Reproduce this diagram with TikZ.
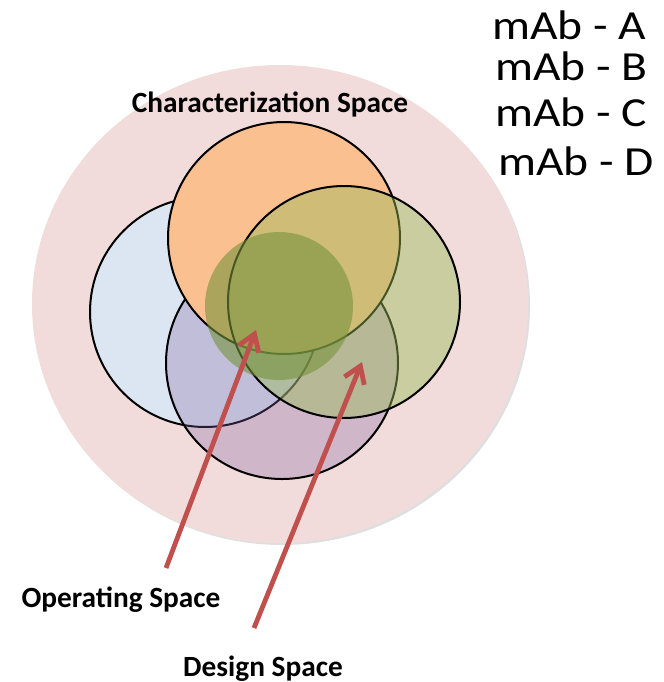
\documentclass[tikz,border=0pt]{standalone}
\usepackage{fontspec}
\setmainfont{Carlito}
\newfontfamily\mabfont[FakeStretch=1.15]{Carlito}
\usetikzlibrary{arrows.meta,shadows}

\definecolor{charpink}{HTML}{F2DCDB}
\definecolor{mabblue}{HTML}{DCE6F2}
\definecolor{maborange}{HTML}{FAC090}
\definecolor{mabpurple}{HTML}{8064A2}
\definecolor{mabgreen}{HTML}{9BBB59}
\definecolor{opgreen}{HTML}{76923C}
\definecolor{arrowred}{HTML}{C0504D}

\tikzset{venn/.style={draw=black,line width=1.5pt}}
\tikzset{pointer/.style={draw=arrowred,line width=3.6pt,-{Straight Barb[length=12pt,width=16pt]}}}
\tikzset{spacename/.style={font=\bfseries\fontsize{22}{26}\selectfont,inner sep=0pt}}
\tikzset{mab/.style={font=\mabfont\fontsize{31}{36}\selectfont,inner sep=0pt,anchor=base west}}

\begin{document}
\begin{tikzpicture}[x=0.75pt,y=-0.75pt]
    \useasboundingbox (0,0) rectangle (664,682);

    % characterization space
    \fill [charpink,drop shadow={opacity=0.25,shadow xshift=1.5pt,shadow yshift=-1.5pt}]
        (280,304) ellipse [x radius=248,y radius=239];

    % one circle per mAb
    \draw [venn,fill=mabblue] (205,312) circle [radius=115];
    \draw [venn,fill=mabpurple,fill opacity=0.3] (282,363) circle [radius=116];
    \draw [venn,fill=maborange] (284,238) circle [radius=116];
    \draw [venn,fill=mabgreen,fill opacity=0.45] (344,302) circle [radius=116];

    % operating space
    \fill [opgreen,opacity=0.6] (279,306) circle [radius=74];

    \coordinate (op tail) at (166,568);
    \coordinate (op tip) at (256,330);
    \coordinate (ds tail) at (254,628);
    \coordinate (ds tip) at (362,362);
    \draw [pointer] (op tail) -- (op tip);
    \draw [pointer] (ds tail) -- (ds tip);

    \node [spacename,anchor=base] (char) at (270,112) {Characterization Space};
    \node [spacename,anchor=base] (op) at (121,607) {Operating Space};
    \node [spacename,anchor=base] (ds) at (263,676) {Design Space};

    \node [mab] (mabA) at (492,39) {mAb - A};
    \node [mab] (mabB) at (495,80) {mAb - B};
    \node [mab] (mabC) at (495,126) {mAb - C};
    \node [mab] (mabD) at (498,175) {mAb - D};
\end{tikzpicture}
\end{document}
